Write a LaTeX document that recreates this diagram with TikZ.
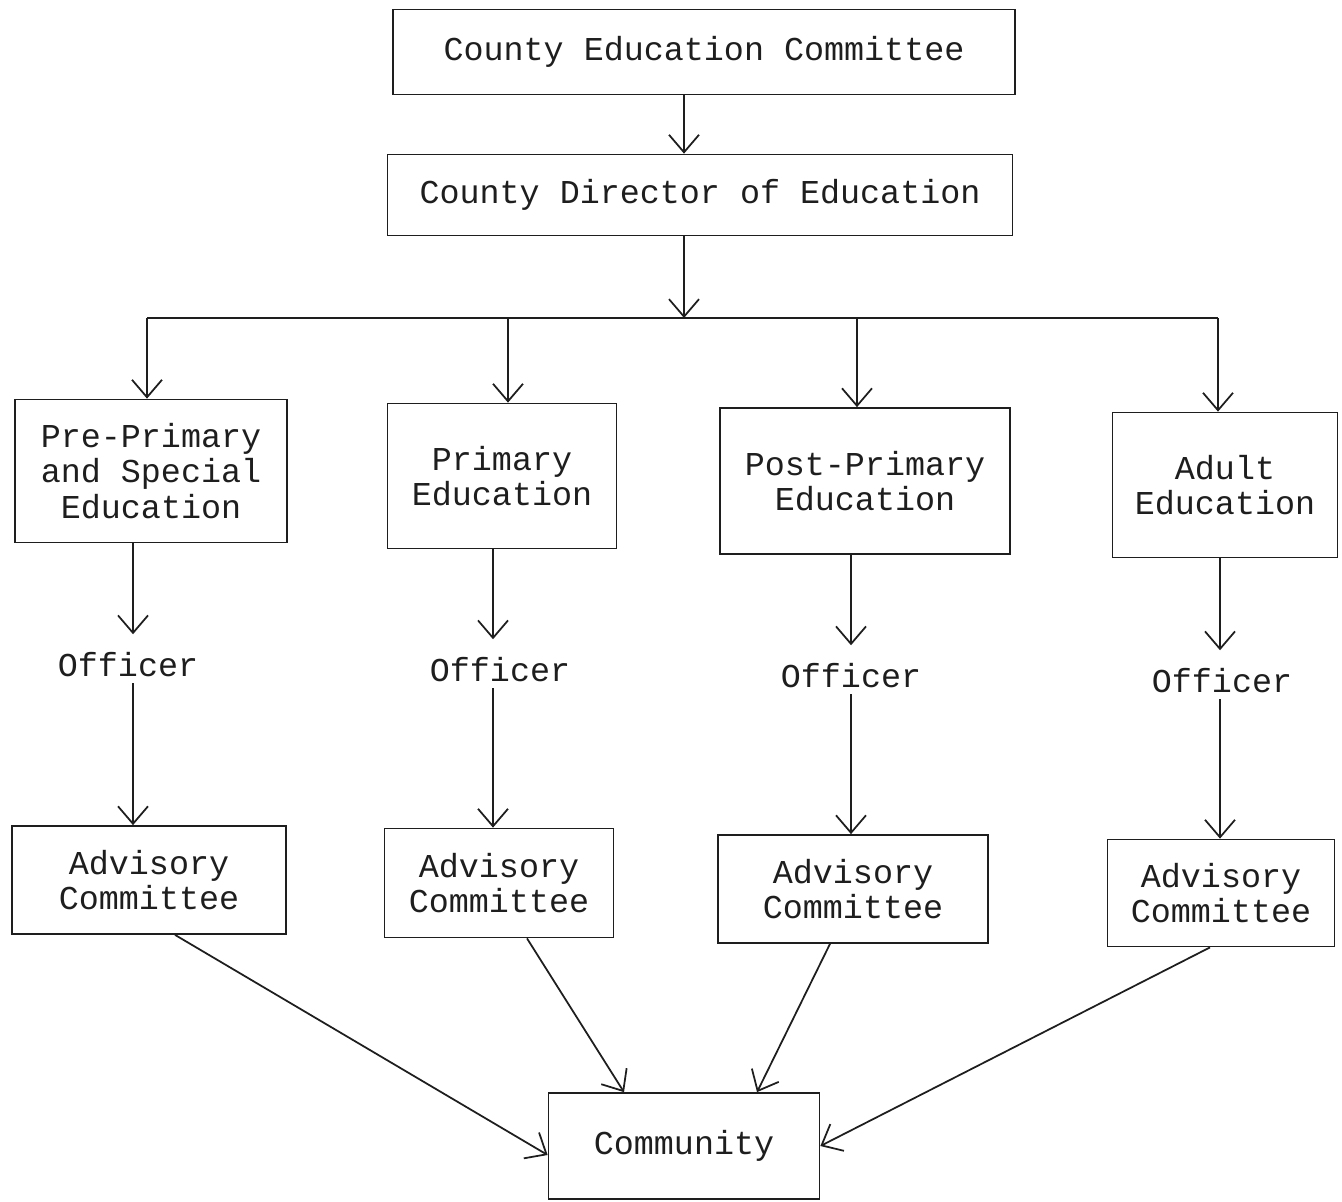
\documentclass[tikz,border=0pt]{standalone}
\usepackage{fontspec}
\setmonofont{Liberation Mono}
\usepackage{tikz}
\usetikzlibrary{arrows.meta, positioning, calc}
\definecolor{inkgray}{RGB}{30, 30, 30}

\begin{document}
\begin{tikzpicture}[
  x=0.02cm, y=-0.02cm,
  every node/.style={font=\ttfamily\fontsize{19}{20}\selectfont, text=inkgray},
  orgbox/.style={draw=inkgray, line width=1pt, align=center, inner sep=0pt},
  arr/.style={-{Straight Barb[length=0.35cm, width=0.6cm]}, inkgray, line width=1pt}
]
  \useasboundingbox (0,0) rectangle (1342,1201);

  % Top of the chart
  \node[orgbox, minimum width=12.44cm, minimum height=1.7cm] (cec) at (704,52) {County Education Committee};
  \node[orgbox, minimum width=12.5cm, minimum height=1.62cm] (cde) at (700,195) {County Director of Education};
  \draw[arr] (cec.south -| 684,0) -- (cde.north -| 684,0);

  % Branch line
  \coordinate (bus) at (684,318);
  \draw[arr] (cde.south -| bus) -- (bus);
  \draw[inkgray, line width=1pt] (147,318) -- (1218,318);

  % Sections
  \node[orgbox, minimum width=5.44cm, minimum height=2.86cm] (pre) at (151,471) {Pre-Primary\\and Special\\Education};
  \node[orgbox, minimum width=4.58cm, minimum height=2.9cm] (pri) at (502,476) {Primary\\Education};
  \node[orgbox, minimum width=5.8cm, minimum height=2.92cm] (post) at (865,481) {Post-Primary\\Education};
  \node[orgbox, minimum width=4.5cm, minimum height=2.9cm] (adult) at (1225,485) {Adult\\Education};

  \draw[arr] (147,318) -- (pre.north -| 147,0);
  \draw[arr] (508,318) -- (pri.north -| 508,0);
  \draw[arr] (857,318) -- (post.north -| 857,0);
  \draw[arr] (1218,318) -- (adult.north -| 1218,0);

  % Officers
  \node (off1) at (128,665) {Officer};
  \node (off2) at (500,670) {Officer};
  \node (off3) at (851,676) {Officer};
  \node (off4) at (1222,681) {Officer};

  % Advisory committees
  \node[orgbox, minimum width=5.48cm, minimum height=2.16cm] (adv1) at (149,880) {Advisory\\Committee};
  \node[orgbox, minimum width=4.58cm, minimum height=2.18cm] (adv2) at (499,883) {Advisory\\Committee};
  \node[orgbox, minimum width=5.4cm, minimum height=2.16cm] (adv3) at (853,889) {Advisory\\Committee};
  \node[orgbox, minimum width=4.54cm, minimum height=2.14cm] (adv4) at (1221,893) {Advisory\\Committee};

  \foreach \sec/\off/\adv/\xx in {pre/off1/adv1/133, pri/off2/adv2/493, post/off3/adv3/851, adult/off4/adv4/1220} {
    \draw[arr, shorten >=7pt] (\sec.south -| \xx,0) -- (\off.north -| \xx,0);
    \draw[arr] (\off.south -| \xx,0) -- (\adv.north -| \xx,0);
  }

  % Community
  \node[orgbox, minimum width=5.42cm, minimum height=2.12cm] (com) at (684,1146) {Community};
  \draw[arr] ($(adv1.south)+(26,0)$) -- ($(com.west)+(0,9)$);
  \draw[arr] ($(adv2.south)+(28,0)$) -- ($(com.north)+(-60,0)$);
  \draw[arr] ($(adv3.south)+(-23,0)$) -- ($(com.north)+(73,0)$);
  \draw[arr] ($(adv4.south)+(-11,0)$) -- (com.east);
\end{tikzpicture}
\end{document}
